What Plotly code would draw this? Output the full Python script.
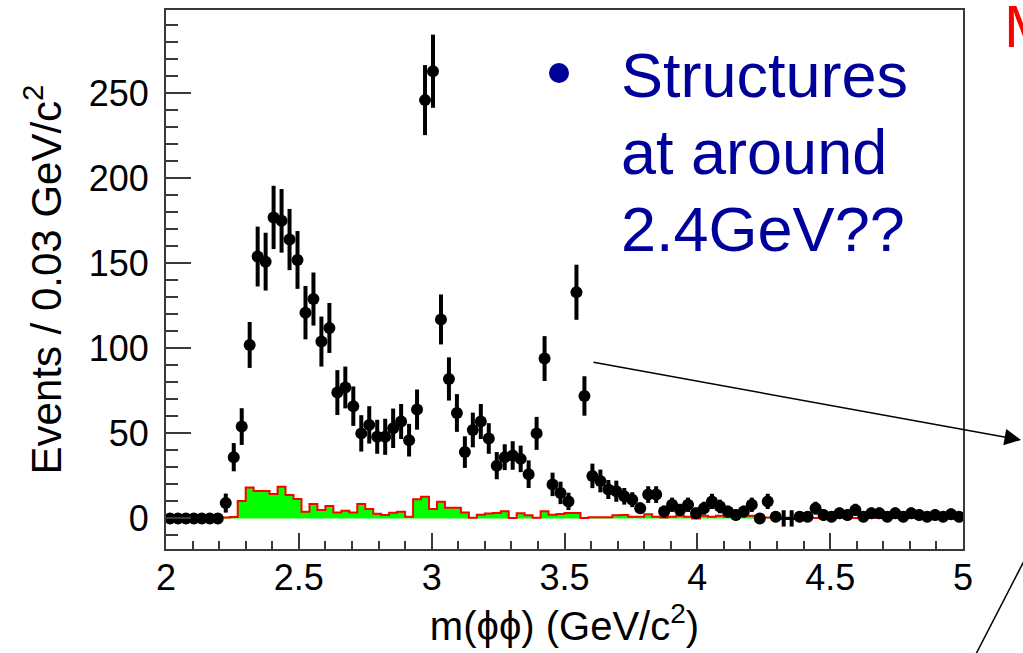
import numpy as np
import plotly.graph_objects as go

# ---- binning: m(phiphi) from 2 to 5 GeV/c^2 in 0.03 GeV bins ----
X_MIN, X_MAX, BIN_W = 2.0, 5.0, 0.03
N_BINS = 100
BIN_EDGES = np.round(X_MIN + BIN_W * np.arange(N_BINS + 1), 3)
BIN_CENTERS = np.round(BIN_EDGES[:-1] + BIN_W / 2, 3)

# ---- data points (events per bin) ----
EVENTS = [0, 0, 0, 0, 0, 0, 0,
          9, 36, 54, 102, 154, 151, 177, 175, 164,
          152, 121, 129, 104, 112, 74, 77, 66, 50, 55,
          48, 48, 53, 57, 46, 64, 246, 263, 117, 82,
          62, 39, 52, 57, 47, 31, 36, 37, 35, 26,
          50, 94, 20, 15, 10, 133, 72, 25, 22, 17,
          16, 13, 11, 6, 14, 14, 4, 8, 5, 8,
          3, 6, 10, 7, 4, 2, 4, 8, 0, 10,
          1, 0, 0, 1, 1, 6, 2, 1, 3, 2,
          5, 1, 3, 3, 1, 3, 1, 3, 2, 1,
          2, 1, 2.5, 1]

# ---- error bars ----
ERRORS = [3, 3, 3, 3, 3, 3, 3,
          5.6, 8.3, 10.8, 13.5, 17.6, 17.0, 18.6, 18.7, 18.0,
          17.0, 15.7, 15.6, 14.7, 14.7, 13.2, 12.3, 11.6, 10.7, 11.0,
          10.0, 10.6, 11.6, 10.3, 9.6, 11.8, 20.6, 21.5, 14.7, 12.7,
          11.1, 9.3, 10.2, 10.3, 9.0, 8.0, 7.6, 8.4, 7.8, 8.1,
          9.7, 13.2, 6.9, 6.6, 5.1, 16.2, 11.6, 7.2, 6.7, 5.6,
          6.2, 4.9, 4.4, 3.4, 4.9, 4.9, 3.5, 4.2, 3.6, 4.2,
          3.4, 3.8, 4.5, 4.0, 3.5, 3.2, 3.5, 4.2, 3.2, 4.5,
          3.2, 4.8, 4.8, 3.2, 3.2, 3.8, 3.3, 3.2, 3.4, 3.3,
          3.6, 3.2, 3.4, 3.4, 3.2, 3.4, 3.2, 3.4, 3.3, 3.2,
          3.3, 3.2, 3.3, 3.2]

# bins drawn as bare error crosses (no filled marker)
CROSS_BINS = [77, 78]

# ---- background histogram (green, red outline) ----
BACKGROUND = [0, 0, 0, 0, 0, 0, 0,
              0.5, 0.8, 10.2, 18.2, 16.1, 16.1, 14.3, 18.6, 13.7,
              11.4, 3.9, 8.4, 4.9, 7.3, 3.5, 4.5, 3.4, 8.4, 5.5,
              2.7, 2.0, 3.3, 3.9, 1.0, 11.2, 12.7, 5.5, 9.8, 6.3,
              6.3, 3.5, 0.4, 2.2, 2.9, 3.2, 4.2, 0.3, 3.0, 1.8,
              0.4, 4.2, 2.2, 2.6, 3.2, 3.2, 0.2, 0.6, 0.6, 0.6,
              1.8, 2.0, 1.0, 1.0, 2.5, 1.0, 0.5, 1.0, 1.5, 1.0,
              0.0, 1.5, 1.0, 1.5, 1.0, 1.0, 1.5, 1.5, 1.5, 0.5,
              0.3, 0.3, 0.3, 0.3, 0.3, 0.3, 0.3, 0.3, 2.0, 0.3,
              0.3, 0.3, 0.3, 0.3, 0.3, 2.0, 0.3, 0.3, 1.0, 1.0,
              0.3, 1.0, 1.0, 0.3]

X_TICKS = [2, 2.5, 3, 3.5, 4, 4.5, 5]
Y_TICKS = [0, 50, 100, 150, 200, 250]
NOTE_LINES = ["Structures", "at around", "2.4GeV??"]

BLUE = "#00009a"
AXIS = "#3a3a3a"
FONT = "Liberation Sans, Arial, Helvetica, sans-serif"

events = np.array(EVENTS, dtype=float)
errors = np.array(ERRORS, dtype=float)
is_cross = np.isin(np.arange(N_BINS), CROSS_BINS)

fig = go.Figure()

# background histogram as a step curve
bkg_steps = list(BACKGROUND) + [BACKGROUND[-1]]
fig.add_trace(go.Scatter(
    x=BIN_EDGES, y=bkg_steps, mode="lines", line_shape="hv",
    line=dict(color="#ff0000", width=2), fill="tozeroy",
    fillcolor="#00ff00", hoverinfo="skip"))

# data points
fig.add_trace(go.Scatter(
    x=BIN_CENTERS[~is_cross], y=events[~is_cross], mode="markers",
    marker=dict(color="black", size=12, symbol="circle"),
    error_y=dict(type="data", array=errors[~is_cross], color="black",
                 thickness=4, width=0)))

fig.add_trace(go.Scatter(
    x=BIN_CENTERS[is_cross], y=events[is_cross], mode="markers",
    marker=dict(color="black", size=10, symbol="line-ew-open",
                line=dict(color="black", width=3)),
    error_y=dict(type="data", array=errors[is_cross], color="black",
                 thickness=4, width=0)))

# plot area in pixels: x 166..963, y 10..549
L, R, T, B = 166, 963, 10, 549
W, H = R - L, B - T


def px(xp):
    return (xp - L) / W


def py(yp):
    return (B - yp) / H


annotations = []
centers_y = [75, 152, 229]
for line_txt, cy in zip(NOTE_LINES, centers_y):
    annotations.append(dict(
        text=line_txt, xref="paper", yref="paper", x=px(619), y=py(cy),
        xanchor="left", yanchor="middle", showarrow=False,
        font=dict(family=FONT, size=63, color=BLUE)))

annotations.append(dict(
    text="M", xref="paper", yref="paper", x=px(1002), y=py(27),
    xanchor="left", yanchor="middle", showarrow=False,
    font=dict(family=FONT, size=60, color="#ff0000")))

annotations.append(dict(
    text="", xref="paper", yref="paper", x=px(1021), y=py(440),
    ax=592 - 1021, ay=362 - 440, showarrow=True,
    arrowhead=2, arrowsize=2.2, arrowwidth=1.5, arrowcolor="black"))

shapes = [
    dict(type="circle", xref="paper", yref="paper",
         x0=px(549), x1=px(569), y0=py(83), y1=py(63),
         fillcolor=BLUE, line=dict(color=BLUE, width=0)),
    dict(type="line", xref="paper", yref="paper",
         x0=px(1024), y0=py(561), x1=px(976), y1=py(654),
         line=dict(color="black", width=1.5)),
]

fig.update_layout(
    width=1023, height=653,
    margin=dict(l=L, r=1023 - R, t=T, b=653 - B, autoexpand=False),
    paper_bgcolor="white", plot_bgcolor="white",
    showlegend=False,
    font=dict(family=FONT, color="black"),
    annotations=annotations, shapes=shapes,
)

fig.update_xaxes(
    range=[X_MIN, X_MAX], tickvals=X_TICKS, ticktext=[f"{v:g}" for v in X_TICKS],
    ticks="inside", ticklen=16, tickwidth=1.5, tickcolor=AXIS,
    minor=dict(dtick=0.1, tick0=2, ticks="inside", ticklen=8,
               tickwidth=1.5, tickcolor=AXIS, showgrid=False),
    showline=True, mirror=True, linecolor=AXIS, linewidth=2,
    showgrid=False, zeroline=False,
    tickfont=dict(family=FONT, size=36, color="black"),
    ticklabelstandoff=-4,
    title=dict(text="m(ϕϕ) (GeV/c<sup>2</sup>)",
               font=dict(family=FONT, size=40, color="black"), standoff=4),
)

fig.update_yaxes(
    range=[-18, 299], tickvals=Y_TICKS, ticktext=[str(v) for v in Y_TICKS],
    ticks="inside", ticklen=25, tickwidth=1.5, tickcolor=AXIS,
    minor=dict(dtick=10, tick0=0, ticks="inside", ticklen=12,
               tickwidth=1.5, tickcolor=AXIS, showgrid=False),
    showline=True, mirror=True, linecolor=AXIS, linewidth=2,
    showgrid=False, zeroline=False,
    tickfont=dict(family=FONT, size=36, color="black"),
    ticklabelstandoff=8,
    title=dict(text="Events / 0.03 GeV/c<sup>2</sup>",
               font=dict(family=FONT, size=42, color="black"), standoff=14),
)

fig.write_html("out.html")
